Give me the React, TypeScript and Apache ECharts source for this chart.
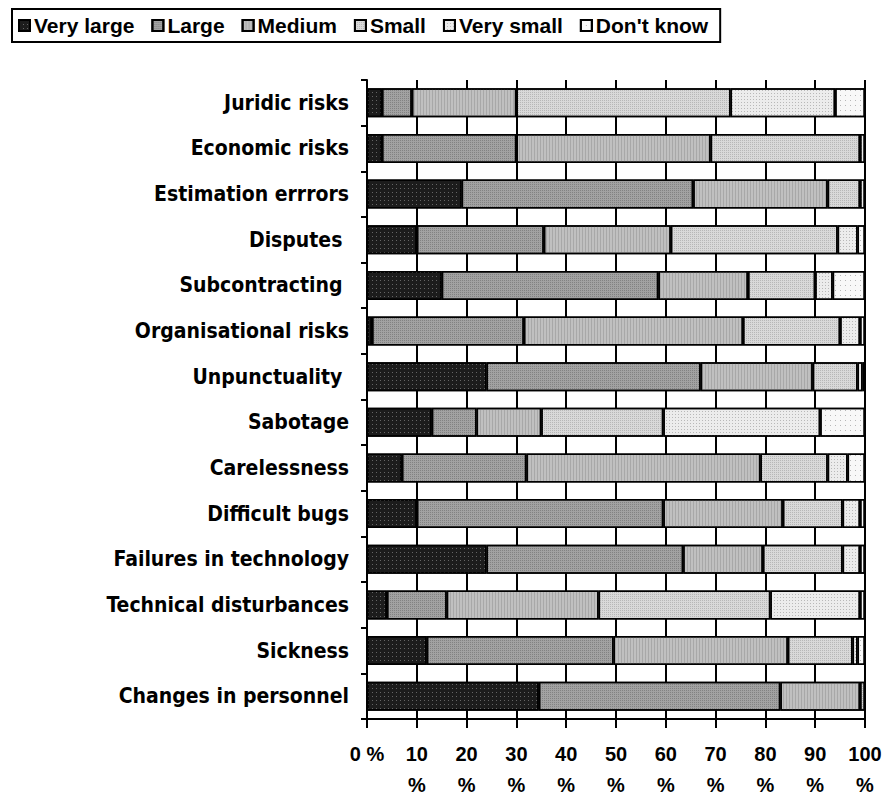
import React, { useEffect, useRef } from "react";
import * as echarts from "echarts";

const categories = [
  "Juridic risks",
  "Economic risks",
  "Estimation errrors",
  "Disputes ",
  "Subcontracting ",
  "Organisational risks",
  "Unpunctuality ",
  "Sabotage",
  "Carelessness",
  "Difficult bugs",
  "Failures in technology",
  "Technical disturbances",
  "Sickness",
  "Changes in personnel",
];

const seriesNames = ["Very large", "Large", "Medium", "Small", "Very small", "Don't know"];

const veryLarge = [3, 3, 19, 10, 15, 1, 24, 13, 7, 10, 24, 4, 12, 34.5];
const large = [6, 27, 46.5, 25.5, 43.5, 30.5, 43, 9, 25, 49.5, 39.5, 12, 37.5, 48.5];
const medium = [21, 39, 27, 25.5, 18, 44, 22.5, 13, 47, 24, 16, 30.5, 35, 16];
const small = [43, 30, 6.5, 33.5, 13.5, 19.5, 9, 24.5, 13.5, 12, 16, 34.5, 13, 1];
const verySmall = [21, 1, 1, 4, 3.5, 4, 1, 31.5, 4, 3.5, 3.5, 18, 1, 0];
const dontKnow = [6, 0, 0, 1.5, 6.5, 1, 0.5, 9, 3.5, 1, 1, 1, 1.5, 0];

const xTicks = [0, 10, 20, 30, 40, 50, 60, 70, 80, 90, 100];

const fills = ["#1c1c1c", "#a2a2a2", "#c0c0c0", "#d9d9d9", "#ececec", "#f8f8f8"];

const decals = [
  { symbol: "rect", symbolSize: 1, color: "rgba(150,150,150,0.6)", dashArrayX: [1, 3], dashArrayY: [1, 3] },
  { symbol: "rect", symbolSize: 1, color: "rgba(90,90,90,0.45)", dashArrayX: [1, 1], dashArrayY: [1, 1] },
  { symbol: "rect", symbolSize: 1, color: "rgba(140,140,140,0.45)", dashArrayX: [1, 2], dashArrayY: [4, 0] },
  { symbol: "rect", symbolSize: 1, color: "rgba(150,150,150,0.5)", dashArrayX: [1, 1], dashArrayY: [1, 1] },
  { symbol: "rect", symbolSize: 1, color: "rgba(150,150,150,0.6)", dashArrayX: [1, 2], dashArrayY: [1, 2] },
  { symbol: "rect", symbolSize: 1, color: "rgba(140,140,140,0.6)", dashArrayX: [1, 4], dashArrayY: [1, 4] },
];

export default function App() {
  const ref = useRef<HTMLDivElement>(null);
  useEffect(() => {
    if (!ref.current) return;
    const chart = echarts.init(ref.current, undefined, { renderer: "svg" });
    const data = [veryLarge, large, medium, small, verySmall, dontKnow];
    chart.setOption({
      animation: false,
      backgroundColor: "#ffffff",
      legend: {
        left: 12,
        top: 9,
        orient: "horizontal",
        borderColor: "#000",
        borderWidth: 2,
        padding: [6, 12, 6, 6],
        itemWidth: 11,
        itemHeight: 11,
        itemGap: 17,
        icon: "rect",
        textStyle: {
          fontFamily: "Arial, 'Liberation Sans', sans-serif",
          fontWeight: "bold",
          fontSize: 21,
          color: "#000",
          padding: [0, 0, 0, -1],
        },
        data: seriesNames,
      },
      grid: {
        left: 367,
        right: 21,
        top: 80,
        bottom: 75,
        containLabel: false,
        outerBoundsMode: "none",
      },
      xAxis: {
        type: "value",
        min: xTicks[0],
        max: xTicks[xTicks.length - 1],
        interval: 10,
        axisLine: { show: true, lineStyle: { color: "#000", width: 2 } },
        axisTick: { show: true, length: 9, lineStyle: { color: "#000", width: 2 } },
        splitLine: { show: true, lineStyle: { color: "#000", width: 2 } },
        axisLabel: {
          formatter: (v: number) => (v === 0 ? "0 %" : v + "\n%"),
          fontFamily: "Arial, 'Liberation Sans', sans-serif",
          fontWeight: "bold",
          fontSize: 20,
          lineHeight: 31,
          color: "#000",
          margin: 19,
        },
      },
      yAxis: {
        type: "category",
        data: categories,
        inverse: true,
        axisLine: { show: true, lineStyle: { color: "#000", width: 2 } },
        axisTick: { show: true, length: 6, alignWithLabel: false, lineStyle: { color: "#000", width: 2 } },
        axisLabel: {
          fontFamily: "'DejaVu Sans Condensed', 'DejaVu Sans', sans-serif",
          fontWeight: "bold",
          fontSize: 21,
          color: "#000",
          margin: 18,
        },
      },
      series: seriesNames.map((name, i) => ({
        name,
        type: "bar",
        stack: "total",
        barWidth: 29,
        data: data[i],
        itemStyle: {
          color: fills[i],
          borderColor: "#000",
          borderWidth: 1.5,
          decal: decals[i],
        },
      })),
    });
    return () => chart.dispose();
  }, []);
  return (
    <div
      ref={ref}
      style={{ position: "absolute", left: 0, top: 0, width: 886, height: 794 }}
    />
  );
}
